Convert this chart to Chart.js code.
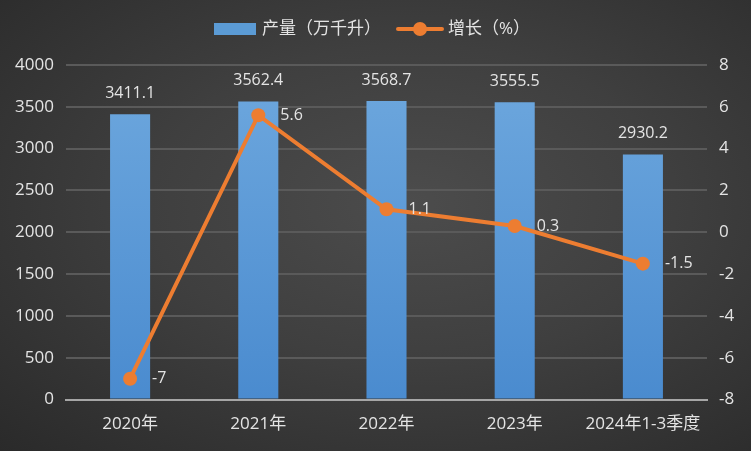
<!DOCTYPE html>
<html>
<head>
<meta charset="utf-8">
<script src="https://cdn.jsdelivr.net/npm/chart.js@4.4.1/dist/chart.umd.min.js"></script>
<style>
  html, body { margin: 0; padding: 0; }
  body {
    width: 751px; height: 451px; overflow: hidden;
    background: radial-gradient(ellipse at 55% 45%, #4c4c4c 0%, #3f3f3f 45%, #2a2a2a 100%);
  }
  #chart { display: block; }
</style>
</head>
<body>
<canvas id="chart" width="751" height="451"></canvas>
<script>
// data
const categories = ["2020年", "2021年", "2022年", "2023年", "2024年1-3季度"];
const output = [3411.1, 3562.4, 3568.7, 3555.5, 2930.2];
const growth = [-7, 5.6, 1.1, 0.3, -1.5];

const FONT = "'Open Sans', 'Noto Sans CJK SC', sans-serif";
const TXT = "#e4e4e4";
const BLUE = "#5b9bd5";
const ORANGE = "#ed7d31";

// bar fill: lighter at top, deeper at bottom
function barFill(ctx) {
  const area = ctx.chart.chartArea;
  if (!area) return BLUE;
  const g = ctx.chart.ctx.createLinearGradient(0, area.top, 0, area.bottom);
  g.addColorStop(0, "#6ea8de");
  g.addColorStop(1, "#4a8bcf");
  return g;
}

// value labels next to bars and points
const valueLabels = {
  id: "valueLabels",
  afterDatasetsDraw(chart) {
    const ctx = chart.ctx;
    ctx.save();
    ctx.font = "16px " + FONT;
    ctx.fillStyle = TXT;
    ctx.textBaseline = "middle";
    chart.data.datasets.forEach((ds, i) => {
      const meta = chart.getDatasetMeta(i);
      meta.data.forEach((el, j) => {
        if (ds.type === "bar") {
          ctx.textAlign = "center";
          ctx.fillText(output[j].toFixed(1), el.x, el.y - 21);
        } else {
          ctx.textAlign = "left";
          ctx.fillText(String(growth[j]), el.x + 22, el.y);
        }
      });
    });
    ctx.restore();
  },
};

// legend drawn by hand: box for bars, line-with-dot for growth
const topLegend = {
  id: "topLegend",
  afterDraw(chart) {
    const ctx = chart.ctx;
    const y = 29;
    ctx.save();
    ctx.font = "17px " + FONT;
    ctx.textBaseline = "middle";
    ctx.textAlign = "left";
    ctx.fillStyle = BLUE;
    ctx.fillRect(214, y - 6, 42, 12);
    ctx.fillStyle = TXT;
    ctx.fillText("产量（万千升）", 262, y);
    ctx.strokeStyle = ORANGE;
    ctx.lineWidth = 4;
    ctx.lineCap = "round";
    ctx.beginPath();
    ctx.moveTo(398, y);
    ctx.lineTo(442, y);
    ctx.stroke();
    ctx.fillStyle = ORANGE;
    ctx.beginPath();
    ctx.arc(420, y, 7, 0, Math.PI * 2);
    ctx.fill();
    ctx.fillStyle = TXT;
    ctx.fillText("增长（%）", 448, y);
    ctx.restore();
  },
};

new Chart(document.getElementById("chart"), {
  data: {
    labels: categories,
    datasets: [
      {
        type: "line",
        label: "增长（%）",
        data: growth,
        yAxisID: "y1",
        borderColor: ORANGE,
        backgroundColor: ORANGE,
        borderWidth: 4,
        pointRadius: 7,
        pointHoverRadius: 7,
        pointBackgroundColor: ORANGE,
        pointBorderWidth: 0,
        tension: 0,
        order: 0,
      },
      {
        type: "bar",
        label: "产量（万千升）",
        data: output,
        yAxisID: "y",
        backgroundColor: barFill,
        barPercentage: 0.625,
        categoryPercentage: 0.5,
        order: 1,
      },
    ],
  },
  options: {
    responsive: false,
    animation: false,
    devicePixelRatio: 1,
    layout: { padding: { top: 65, left: 0, right: 0, bottom: 3 } },
    plugins: {
      legend: { display: false },
      tooltip: { enabled: false },
    },
    scales: {
      x: {
        grid: { display: false, drawTicks: false },
        border: { color: "#a6a6a6", width: 2 },
        ticks: { color: TXT, font: { family: FONT, size: 17 }, padding: 14, maxRotation: 0, autoSkip: false },
      },
      y: {
        position: "left",
        min: 0, max: 4000,
        ticks: { stepSize: 500, color: TXT, font: { family: FONT, size: 17 }, padding: 12, callback: v => String(v) },
        grid: { color: "#5a5a5a", lineWidth: 2, drawTicks: false },
        border: { display: false },
        afterFit(scale) { scale.width = 66; },
      },
      y1: {
        position: "right",
        min: -8, max: 8,
        ticks: { stepSize: 2, color: TXT, font: { family: FONT, size: 17 }, padding: 12, callback: v => String(v) },
        grid: { display: false, drawTicks: false },
        border: { display: false },
        afterFit(scale) { scale.width = 44; },
      },
    },
  },
  plugins: [valueLabels, topLegend],
});
</script>
</body>
</html>
